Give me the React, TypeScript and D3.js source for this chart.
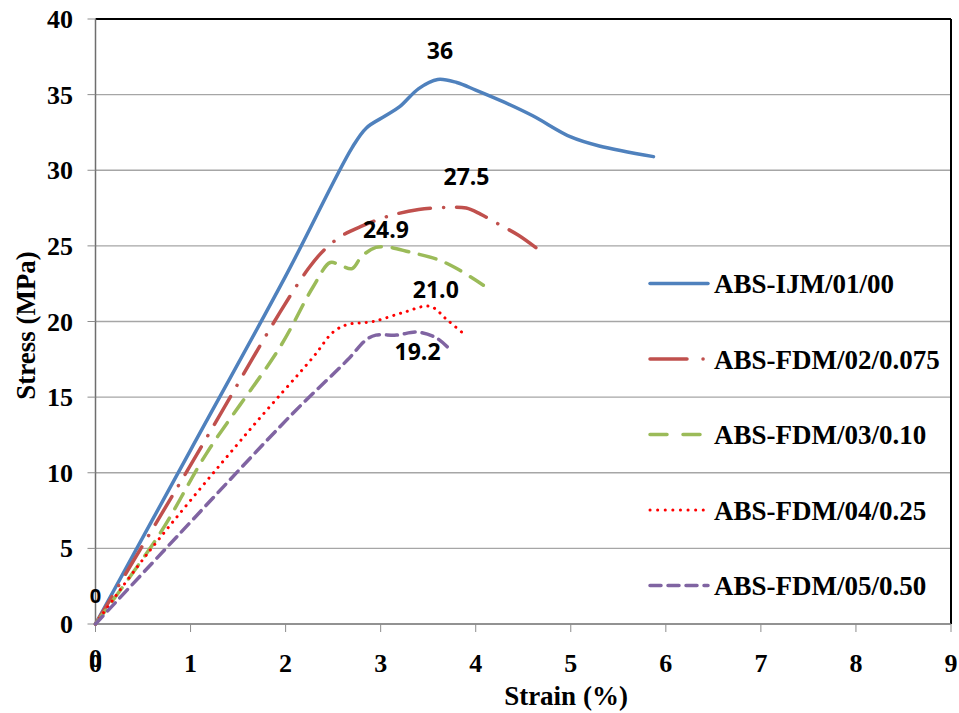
import React from "react";
import * as d3 from "d3";

const xTicks = [0, 1, 2, 3, 4, 5, 6, 7, 8, 9];
const yTicks = [0, 5, 10, 15, 20, 25, 30, 35, 40];

const seriesNames = [
  "ABS-IJM/01/00",
  "ABS-FDM/02/0.075",
  "ABS-FDM/03/0.10",
  "ABS-FDM/04/0.25",
  "ABS-FDM/05/0.50",
];

const ijm01: [number, number][] = [
  [0, 0], [1, 11.5], [2, 23], [2.7, 31.5], [2.85, 32.8], [3.05, 33.6], [3.2, 34.2],
  [3.4, 35.4], [3.6, 36], [3.8, 35.8], [4.0, 35.3], [4.3, 34.5], [4.6, 33.6],
  [5.0, 32.2], [5.3, 31.6], [5.87, 30.9],
];
const fdm02: [number, number][] = [
  [0, 0], [1, 10.5], [1.94, 20.6], [2.24, 23.5], [2.4, 24.7], [2.6, 25.7], [2.8, 26.3],
  [3.1, 27.0], [3.4, 27.4], [3.7, 27.55], [3.9, 27.5], [4.05, 27.1], [4.25, 26.4],
  [4.45, 25.7], [4.65, 24.8],
];
const fdm03: [number, number][] = [
  [0, 0], [0.68, 6.0], [1.17, 11.3], [1.94, 18.3], [2.29, 22.3], [2.47, 23.9],
  [2.58, 23.7], [2.7, 23.5], [2.8, 24.3], [2.95, 24.9], [3.1, 24.9], [3.3, 24.6],
  [3.6, 24.1], [3.8, 23.5], [4.08, 22.4],
];
const fdm04: [number, number][] = [
  [0, 0], [0.54, 4.6], [1.59, 12.6], [2.29, 17.65], [2.5, 19.3], [2.65, 19.8],
  [2.92, 20.0], [3.24, 20.6], [3.52, 21.0], [3.7, 20.1], [3.89, 19.1],
];
const fdm05: [number, number][] = [
  [0, 0], [0.89, 6.0], [2.08, 13.95], [2.65, 17.45], [2.85, 18.8], [2.95, 19.1],
  [3.17, 19.1], [3.38, 19.3], [3.59, 18.9], [3.72, 18.2],
];

const peakLabels = ["36", "27.5", "24.9", "21.0", "19.2"];
const peakPos: [number, number][] = [
  [3.624, 37.36], [3.903, 29.02], [3.056, 25.52], [3.58, 21.55], [3.388, 17.45],
];

const colors = ["#4F81BD", "#C0504D", "#9BBB59", "#FF0000", "#8064A2"];
const dashes = ["none", "32 13 0.1 13", "17 11", "0.1 7", "11 7"];
const legendDashes = ["none", "37 16 0.1 40", "17 16", "0.1 7.5", "11 7"];
const widths = [3.5, 3.5, 3.5, 3, 3.5];

export default function App() {
  const W = 959, H = 713;
  const left = 95.5, right = 951, top = 19, bottom = 624;
  const x = d3.scaleLinear().domain([0, 9]).range([left, right]);
  const y = d3.scaleLinear().domain([0, 40]).range([bottom, top]);
  const data = [ijm01, fdm02, fdm03, fdm04, fdm05];
  const line = d3
    .line<[number, number]>()
    .x((d) => x(d[0]))
    .y((d) => y(d[1]))
    .curve(d3.curveCatmullRom.alpha(0.5));

  const serif = "'Liberation Serif', 'Times New Roman', serif";
  const sans = "'Open Sans', 'Liberation Sans', sans-serif";

  return (
    <svg width={W} height={H} style={{ position: "absolute", left: 0, top: 0, background: "#fff" }}>
      {/* gridlines */}
      {yTicks.filter((t) => t > 0 && t < 40).map((t) => (
        <line key={t} x1={left} x2={right} y1={y(t)} y2={y(t)} stroke="#A6A6A6" strokeWidth={1.3} />
      ))}
      {/* border top/right */}
      <line x1={left} x2={right} y1={y(40)} y2={y(40)} stroke="#000" strokeWidth={2} />
      <line x1={right} x2={right} y1={y(40)} y2={bottom} stroke="#000" strokeWidth={2} />
      {/* axes */}
      <line x1={left} x2={left} y1={top} y2={bottom} stroke="#6E6E6E" strokeWidth={1.5} />
      <line x1={left} x2={right} y1={bottom} y2={bottom} stroke="#6E6E6E" strokeWidth={1.5} />
      {yTicks.map((t) => (
        <g key={t}>
          <line x1={left - 8} x2={left} y1={y(t)} y2={y(t)} stroke="#8C8C8C" strokeWidth={1} />
          <text x={73} y={y(t) + 9} textAnchor="end" fontFamily={serif} fontWeight="bold" fontSize={26}>
            {t}
          </text>
        </g>
      ))}
      {xTicks.map((t) => (
        <g key={t}>
          <line x1={x(t)} x2={x(t)} y1={bottom} y2={bottom + 8} stroke="#8C8C8C" strokeWidth={1} />
          <text x={x(t)} y={672} textAnchor="middle" fontFamily={serif} fontWeight="bold" fontSize={26}>
            {t}
          </text>
        </g>
      ))}
      <text x={x(0)} y={667} textAnchor="middle" fontFamily={serif} fontWeight="bold" fontSize={26}>
        0
      </text>
      {/* axis titles */}
      <text x={566} y={705} textAnchor="middle" fontFamily={serif} fontWeight="bold" fontSize={27}>
        Strain (%)
      </text>
      <text
        transform={`translate(35, ${(top + bottom) / 2 + 4}) rotate(-90)`}
        textAnchor="middle"
        fontFamily={serif}
        fontWeight="bold"
        fontSize={27}
      >
        Stress (MPa)
      </text>
      {/* series */}
      {data.map((d, i) => (
        <path
          key={i}
          d={line(d) || ""}
          fill="none"
          stroke={colors[i]}
          strokeWidth={widths[i]}
          strokeDasharray={dashes[i] === "none" ? undefined : dashes[i]}
          strokeLinecap="round"
          strokeLinejoin="round"
        />
      ))}
      {/* data labels */}
      {peakLabels.map((l, i) => (
        <text
          key={l}
          x={x(peakPos[i][0])}
          y={y(peakPos[i][1])}
          textAnchor="middle"
          fontFamily={sans}
          fontWeight="bold"
          fontSize={23}
        >
          {l}
        </text>
      ))}
      <text x={x(0)} y={y(1.39)} textAnchor="middle" fontFamily={sans} fontWeight="bold" fontSize={20}>
        0
      </text>
      {/* legend */}
      {seriesNames.map((n, i) => {
        const ly = 283.5 + i * 75.5;
        return (
          <g key={n}>
            <line
              x1={650}
              x2={i === 1 ? 706 : 708}
              y1={ly}
              y2={ly}
              stroke={colors[i]}
              strokeWidth={widths[i]}
              strokeDasharray={legendDashes[i] === "none" ? undefined : legendDashes[i]}
              strokeLinecap="round"
            />
            <text x={714} y={ly + 9.5} fontFamily={serif} fontWeight="bold" fontSize={27}>
              {n}
            </text>
          </g>
        );
      })}
    </svg>
  );
}
